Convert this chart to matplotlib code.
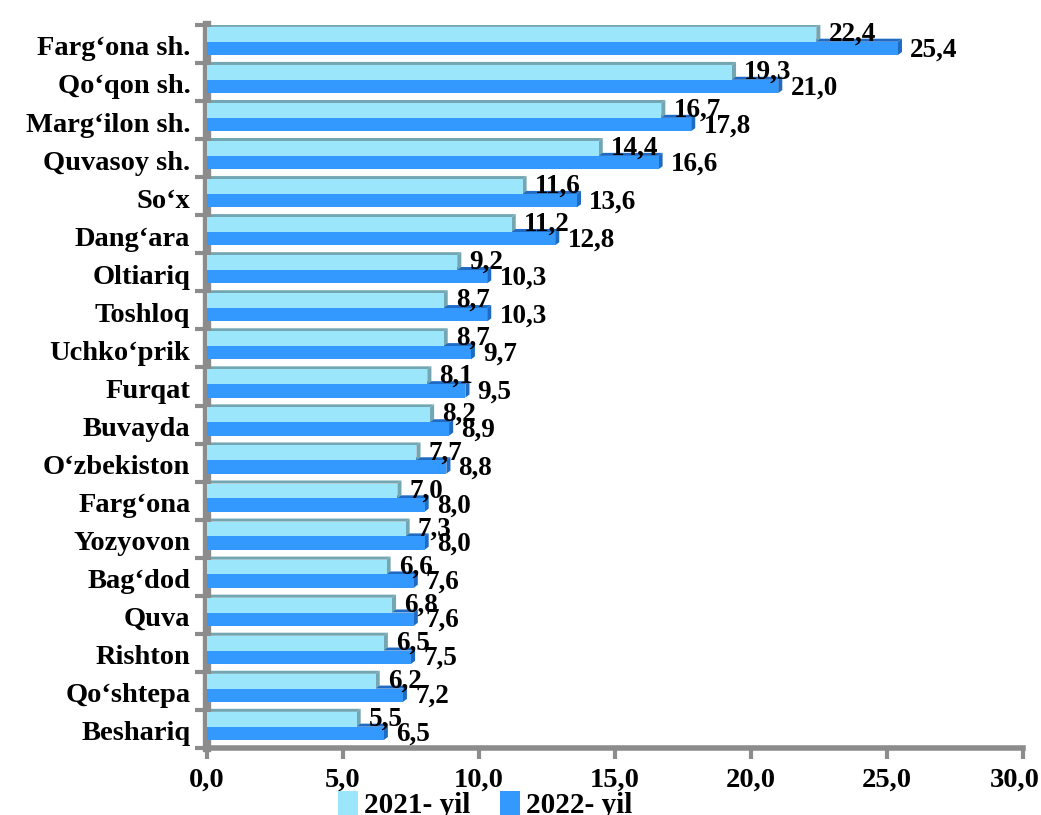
"""Horizontal 3D-style bar chart, 2021 vs 2022 by district."""
import numpy as np
from matplotlib import pyplot
from matplotlib.patches import Polygon, Rectangle
from matplotlib.transforms import ScaledTranslation

categories = ["Farg‘ona sh.", "Qo‘qon sh.", "Marg‘ilon sh.", "Quvasoy sh.", "So‘x",
              "Dang‘ara", "Oltiariq", "Toshloq", "Uchko‘prik", "Furqat", "Buvayda",
              "O‘zbekiston", "Farg‘ona", "Yozyovon", "Bag‘dod", "Quva", "Rishton",
              "Qo‘shtepa", "Beshariq"]
values_2021 = [22.4, 19.3, 16.7, 14.4, 11.6, 11.2, 9.2, 8.7, 8.7, 8.1, 8.2, 7.7, 7.0,
               7.3, 6.6, 6.8, 6.5, 6.2, 5.5]
values_2022 = [25.4, 21.0, 17.8, 16.6, 13.6, 12.8, 10.3, 10.3, 9.7, 9.5, 8.9, 8.8, 8.0,
               8.0, 7.6, 7.6, 7.5, 7.2, 6.5]
x_ticks = [0, 5, 10, 15, 20, 25, 30]

light = "#9be6fa"
light_edge = "#72a6b2"
dark = "#3399ff"
dark_edge = "#1f6bc4"
gray = "#8c8c8c"

pyplot.rcParams['font.family'] = ['Liberation Serif', 'DejaVu Serif']
pyplot.rcParams['font.weight'] = 'bold'


def comma(v):
    return ("%.1f" % v).replace('.', ',')


W, H = 1041, 815
figure = pyplot.figure(figsize=(W / 100, H / 100), dpi=100)
ax = figure.add_axes([207 / W, 1 - 748 / H, (1023 - 207) / W, (748 - 25) / H])

n = len(categories)
ax.set_xlim(0, 30)
ax.set_ylim(n - 0.5, -0.5)

dx = 0.15   # depth of the 3d effect, x units
dy = 0.08   # depth of the 3d effect, category units


def bar3d(y0, y1, w, face, edge):
    # end face and top face first, then the front face
    ax.add_patch(Polygon([(w, y0), (w, y1), (w + dx, y1 - dy), (w + dx, y0 - dy)],
                         closed=True, facecolor=edge, edgecolor='none', zorder=2))
    ax.add_patch(Polygon([(0, y0), (w, y0), (w + dx, y0 - dy), (dx, y0 - dy)],
                         closed=True, facecolor=edge, edgecolor='none', zorder=2))
    ax.add_patch(Rectangle((0, y0), w, y1 - y0, facecolor=face, edgecolor='none', zorder=3))


for i in range(n):
    # dark bar sits below the light one
    bar3d(i - 0.06, i + 0.29, values_2022[i], dark, dark_edge)
    bar3d(i - 0.45, i - 0.06, values_2021[i], light, light_edge)
    ax.text(values_2021[i] + 0.45, i - 0.09, comma(values_2021[i]),
            ha='left', va='baseline', fontsize=19.5, fontweight='bold', zorder=5)
    ax.text(values_2022[i] + 0.45, i + 0.32, comma(values_2022[i]),
            ha='left', va='baseline', fontsize=19.5, fontweight='bold', zorder=5)

# category labels on major ticks, band boundaries on minor ticks
ax.set_yticks(np.arange(n) + 0.05)
ax.set_yticklabels(categories, fontsize=20.5, fontweight='bold')
ax.set_yticks(np.arange(n + 1) - 0.5, minor=True)
ax.tick_params(axis='y', which='major', length=0, pad=12)
ax.tick_params(axis='y', which='minor', length=9, width=3, color=gray)

ax.set_xticks(x_ticks)
ax.set_xticklabels([comma(v) for v in x_ticks], fontsize=20.5, fontweight='bold')
ax.tick_params(axis='x', length=8, width=3, color=gray, pad=6)
# last tick label sits a little to the left so it fits in the picture
last = ax.get_xticklabels()[-1]
last.set_transform(last.get_transform() + ScaledTranslation(-8 / 100, 0, figure.dpi_scale_trans))

for side in ['top', 'right']:
    ax.spines[side].set_visible(False)
ax.spines['left'].set_color(gray)
ax.spines['left'].set_linewidth(6)
ax.spines['bottom'].set_color(gray)
ax.spines['bottom'].set_linewidth(4)
ax.set_facecolor('none')

handles = [Rectangle((0, 0), 1, 1, facecolor=light), Rectangle((0, 0), 1, 1, facecolor=dark)]
figure.legend(handles, ["2021- yil", "2022- yil"], loc='center', ncol=2,
              bbox_to_anchor=(0.466, 0.012), frameon=False, fontsize=21,
              handlelength=0.7, handleheight=0.9, handletextpad=0.2, columnspacing=1.0)

figure.savefig('out.png', dpi=100)
